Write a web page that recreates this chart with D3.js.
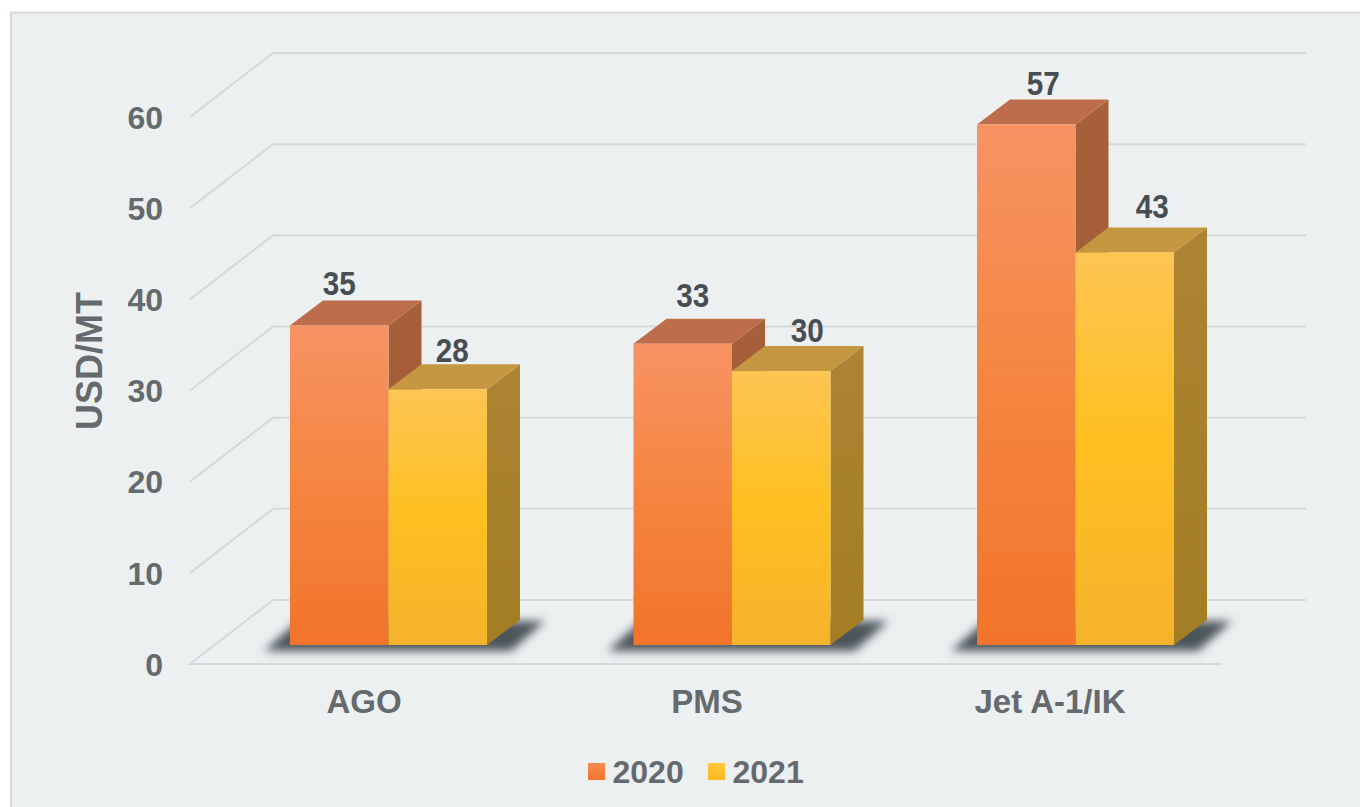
<!DOCTYPE html>
<html><head><meta charset="utf-8">
<script src="https://cdn.jsdelivr.net/npm/d3@7"></script>
<style>html,body{margin:0;padding:0;background:#fff}svg{display:block}</style>
</head><body><svg id="c" width="1360" height="807"></svg>
<script>
const categories = ["AGO","PMS","Jet A-1/IK"];
const series = ["2020","2021"];
const values2020 = [35,33,57];
const values2021 = [28,30,43];
const yTicks = [0,10,20,30,40,50,60];
const yTitle = "USD/MT";

const W=1360,H=807;
const svg=d3.select("#c");
const defs=svg.append("defs");
function grad(id,stops){
  const g=defs.append("linearGradient").attr("id",id).attr("x1",0).attr("y1",0).attr("x2",0).attr("y2",1);
  stops.forEach(s=>g.append("stop").attr("offset",s[0]).attr("stop-color",s[1]));
}
grad("g2020",[[0,"#f79363"],[0.5,"#f58540"],[1,"#f2742a"]]);
grad("g2021",[[0,"#fdc553"],[0.48,"#fec021"],[1,"#f5b32c"]]);
grad("l2020",[[0,"#f68a50"],[1,"#f2762c"]]);
grad("l2021",[[0,"#fec83c"],[1,"#fcb91e"]]);
defs.append("filter").attr("id","blur").attr("x","-20%").attr("y","-50%").attr("width","140%").attr("height","200%")
  .append("feGaussianBlur").attr("stdDeviation",5);

const top3={ "2020":"#be6d4a", "2021":"#c59741" };
const side={ "2020":["#a6603a","#a35a2e"], "2021":["#ad8433","#a37d24"] };
grad("s2020",[[0,side["2020"][0]],[1,side["2020"][1]]]);
grad("s2021",[[0,side["2021"][0]],[1,side["2021"][1]]]);

svg.append("rect").attr("x",11).attr("y",12.5).attr("width",W+20).attr("height",H+20)
  .attr("fill","#edf0f1").attr("stroke","#d6d9db").attr("stroke-width",2);

// scales
const yFront=d3.scaleLinear().domain([0,60]).range([645,97.2]);
const yBack=d3.scaleLinear().domain([0,60]).range([600,53]);
const yLabel=d3.scaleLinear().domain([0,60]).range([665,118]);
const xGroup=d3.scaleBand().domain(categories).range([290,1174]).paddingInner(0.4265).paddingOuter(0);
const xSeries=d3.scaleBand().domain(series).range([0,xGroup.bandwidth()]);
const dx=33,dy=-25;
const gridColor="#d5d9dc";

// walls
const grid=svg.append("g").attr("fill","none").attr("stroke",gridColor).attr("stroke-width",2);
grid.selectAll("path").data(yTicks).join("path")
  .attr("d",d=>{
    const yb=yBack(d);
    return d===0 ? `M1222,664H190L273,${yb}H1306`
                 : `M190,${yb+64}L273,${yb}H1306`;
  });

// shadows
const sh=svg.append("g").attr("filter","url(#blur)").attr("fill","#4c555a");
sh.selectAll("path").data(categories).join("path")
  .attr("d",c=>{
    const x0=xGroup(c),x1=x0+xGroup.bandwidth();
    const y=yFront(0);
    return `M${x0-26},${y+6}L${x0+8},${y-24}H${x1+58}L${x1+24},${y+6}Z`;
  });

// bars
const rows=[];
categories.forEach((c,i)=>{
  rows.push({c,s:"2020",v:values2020[i],i});
  rows.push({c,s:"2021",v:values2021[i],i});
});
const bars=svg.append("g").selectAll("g").data(rows).join("g");
bars.each(function(d){
  const g=d3.select(this);
  const x=xGroup(d.c)+xSeries(d.s), w=xSeries.bandwidth(), t=yFront(d.v), b=yFront(0);
  g.append("path").attr("d",`M${x+w},${t}l${dx},${dy}V${b+dy}l${-dx},${-dy}Z`).attr("fill",`url(#s${d.s})`);
  g.append("path").attr("d",`M${x},${t}l${dx},${dy}h${w}l${-dx},${-dy}Z`).attr("fill",top3[d.s]);
  g.append("rect").attr("x",x).attr("y",t).attr("width",w).attr("height",b-t).attr("fill",`url(#g${d.s})`);
});

// value labels: hand-placed nudges from the bar's front-face centre and back top edge
const nudgeX={"2020":[0,10,17],"2021":[14.5,26,27.5]};
const nudgeY={"2020":[5.6,12,5],"2021":[2.6,4,9.4]};
svg.append("g").selectAll("text").data(rows).join("text")
  .attr("x",d=>xGroup(d.c)+xSeries(d.s)+xSeries.bandwidth()/2+nudgeX[d.s][d.i])
  .attr("y",d=>yFront(d.v)+dy-nudgeY[d.s][d.i])
  .attr("text-anchor","middle")
  .attr("font-family","'Liberation Sans', Arial, sans-serif").attr("font-weight",700).attr("font-size",33)
  .attr("textLength",33).attr("lengthAdjust","spacingAndGlyphs")
  .attr("fill","#474d52").text(d=>d.v);

const font="'Liberation Sans', Arial, sans-serif", tc="#646a6e";
// y axis
const ax=svg.append("g").attr("transform","translate(163,0)")
  .call(d3.axisLeft(yLabel).tickValues(yTicks).tickSize(0).tickPadding(0));
ax.select(".domain").remove();
ax.selectAll("text").attr("font-family",font).attr("font-weight",700).attr("font-size",32).attr("fill",tc);

// x axis
const xa=svg.append("g").attr("transform","translate(0,689.5)")
  .call(d3.axisBottom(d3.scalePoint().domain(categories).range([363.5,1049.5])).tickSize(0).tickPadding(0));
xa.select(".domain").remove();
xa.selectAll("text").attr("font-family",font).attr("font-weight",700).attr("font-size",33).attr("fill",tc).attr("dy","0.71em");

svg.append("text").attr("transform","translate(102,361) rotate(-90)").attr("text-anchor","middle")
  .attr("font-family",font).attr("font-weight",700).attr("font-size",36).attr("fill",tc).text(yTitle);

// legend
const lx=d3.scaleOrdinal().domain(series).range([588,708]);
const lg=svg.append("g").selectAll("g").data(series).join("g").attr("transform",d=>`translate(${lx(d)},0)`);
lg.append("rect").attr("y",763).attr("width",17).attr("height",17).attr("fill",d=>`url(#l${d})`);
lg.append("text").attr("x",24.5).attr("y",783).attr("font-family",font).attr("font-weight",700).attr("font-size",32).attr("fill",tc).text(d=>d);
</script></body></html>
